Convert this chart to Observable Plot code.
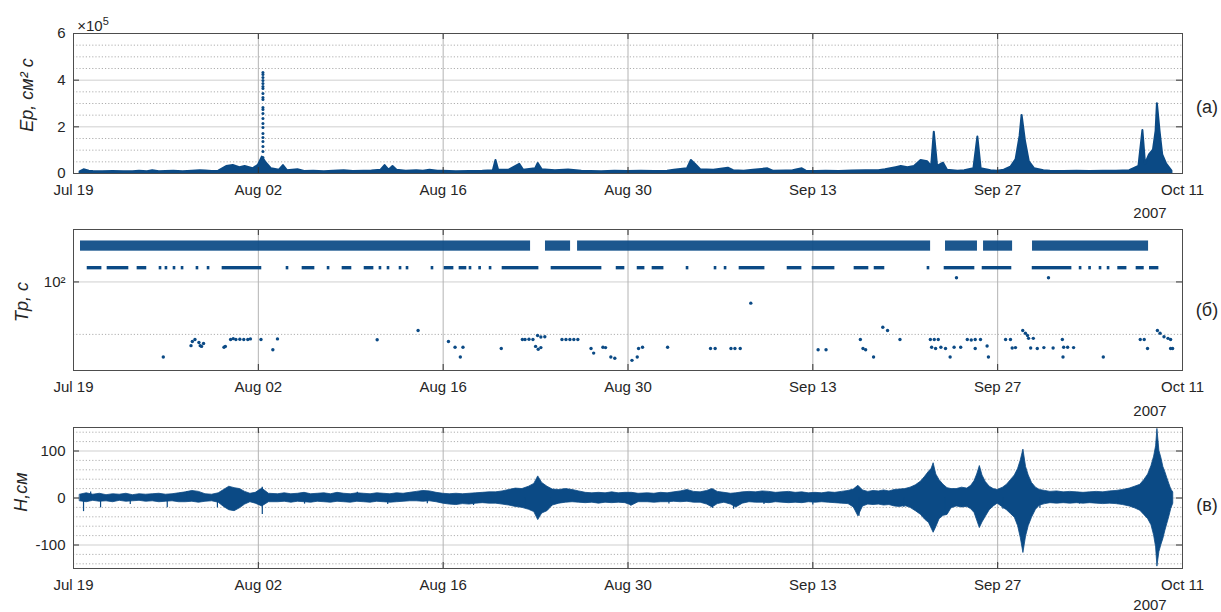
<!DOCTYPE html>
<html>
<head>
<meta charset="utf-8">
<script src="https://cdn.jsdelivr.net/npm/d3@7"></script>
<script src="https://cdn.jsdelivr.net/npm/@observablehq/plot@0.6"></script>
<style>
  html, body { margin: 0; padding: 0; background: #fff; }
  #wrap { position: relative; width: 1221px; height: 612px; overflow: hidden; font-family: "Liberation Sans", Arial, Helvetica, sans-serif; color: #262626; }
  #wrap svg { position: absolute; left: 0; }
  .lab { position: absolute; white-space: nowrap; }
  .ylab { font-style: italic; font-size: 18px; transform: translate(-50%, -50%) rotate(-90deg); }
  .tag { font-size: 18px; transform: translate(-50%, -50%); }
  .yr { font-size: 15px; transform: translate(-50%, -50%); }
  .yr sup { font-size: 11px; vertical-align: 6px; }
</style>
</head>
<body>
<div id="wrap"></div>
<script>
// ---------- shared x axis (days since 19 Jul 2007) ----------
const tickDays = [0, 14, 28, 42, 56, 70, 84];
const tickLabels = ["Jul 19", "Aug 02", "Aug 16", "Aug 30", "Sep 13", "Sep 27", "Oct 11"];
const yearLabel = "2007";
const panelTags = ["(а)", "(б)", "(в)"];
const yLabels = ["Ep, см² с", "Tp, с", "H,см"];

// ---------- panel (а): Ep, units of 1e5 ----------
const epTicks = [0, 2, 4, 6];
const epMinor = [0.5, 1, 1.5, 2.5, 3, 3.5, 4.5, 5, 5.5];
const epDay = [0.5,0.8,1.2,1.5,2.2,3,3.8,4.5,5,5.6,6,6.5,7,7.6,8.3,9,9.6,10,10.5,11,11.6,12.1,12.6,13.0,13.6,14.0,14.3,14.6,15.0,15.6,15.9,16.2,17.0,17.5,18.2,19,19.7,20.5,21.2,22,22.6,23.3,23.6,23.9,24.2,24.5,25.2,26,26.5,27,27.6,28,29,30,31,31.8,32.0,32.2,33,33.8,34.1,35.0,35.2,35.5,36.5,37.5,38.5,39.2,40,41,42,43,44,45,45.5,46.5,46.8,47.1,47.5,48.5,49.6,50,50.8,51.5,52.6,53,54,54.5,55.2,55.5,56.3,57,58,59,60,61,61.5,62.3,62.7,63.2,63.7,64.2,64.7,65.0,65.2,65.45,65.9,66.2,67,67.5,68.2,68.5,68.75,69.5,70,70.5,71.0,71.4,71.7,71.85,72.1,72.4,72.8,73.5,74,75,76,77,78,79,80,80.7,81.0,81.2,81.5,81.8,82.0,82.1,82.3,82.5,82.8,83.2];
const epTop = [0.07,0.16,0.1,0.09,0.08,0.09,0.07,0.08,0.1,0.08,0.12,0.08,0.09,0.1,0.08,0.1,0.12,0.11,0.09,0.1,0.3,0.34,0.25,0.3,0.2,0.35,0.7,0.45,0.2,0.14,0.34,0.12,0.16,0.09,0.1,0.08,0.1,0.12,0.09,0.1,0.11,0.14,0.34,0.14,0.3,0.14,0.1,0.12,0.1,0.14,0.1,0.1,0.08,0.09,0.1,0.12,0.56,0.14,0.14,0.39,0.14,0.2,0.43,0.16,0.12,0.15,0.1,0.09,0.08,0.1,0.09,0.1,0.09,0.1,0.14,0.2,0.56,0.4,0.16,0.14,0.23,0.12,0.1,0.14,0.2,0.1,0.11,0.12,0.2,0.1,0.09,0.1,0.09,0.11,0.12,0.12,0.16,0.25,0.3,0.25,0.3,0.56,0.5,0.3,1.77,0.3,0.44,0.14,0.1,0.12,0.2,1.56,0.2,0.12,0.1,0.14,0.27,0.6,1.6,2.49,1.4,0.5,0.2,0.12,0.1,0.09,0.1,0.09,0.1,0.1,0.12,0.3,1.84,0.4,0.8,1.0,1.8,2.99,1.8,0.8,0.4,0.1];
const epSpikeDay = 14.35;
const epSpikeVals = [4.33,4.24,4.11,3.99,3.86,3.73,3.64,3.43,3.26,3.17,2.83,2.74,2.57,2.36,2.14,1.97,1.71,1.54,1.37,1.16,0.94,0.69];

// ---------- panel (б): Tp, log scale ----------
const tpTicks = [100];
const tpMinor = [10];
const tpBandLo = 386, tpBandHi = 604;          // dense upper band
const tpBand = [[0.53,34.62],[35.75,37.65],[38.18,64.92],[66.05,68.47],[68.93,71.13],[72.64,81.43]];
const tp2Lo = 170, tp2Hi = 197;                // secondary band
const tp2 = [[1.14,2.05],[2.65,4.09],[4.92,5.45],[6.59,6.59],[7.04,7.04],[7.65,7.65],[8.26,8.26],[9.39,9.39],[10.23,10.23],[11.36,14.16],[16.21,16.21],[17.42,18.18],[19.32,19.32],[20.45,20.98],[22.12,22.65],[23.25,23.25],[23.86,23.86],[24.77,24.77],[25.30,25.30],[27.19,27.19],[28.18,28.71],[29.31,29.69],[30.07,30.07],[30.8,30.8],[31.59,31.59],[32.57,35.15],[36.28,39.92],[41.21,41.66],[42.80,43.18],[43.93,44.62],[46.51,46.51],[48.63,48.63],[49.39,49.39],[50.52,52.27],[54.16,55.07],[56.05,57.57],[59.23,60.14],[60.75,61.35],[64.76,64.76],[66.05,68.17],[68.93,70.97],[72.72,75.52],[76.28,76.28],[77.0,77.0],[77.79,77.79],[78.40,78.40],[79.2,79.69],[80.59,81.0],[81.6,82.11]];
const tpDotDay = [6.8,8.9,9.0,9.2,9.5,9.6,9.85,9.7,11.4,11.5,11.9,12.1,12.3,12.6,12.9,13.2,13.4,14.2,15.1,15.45,23.0,26.1,28.4,28.9,29.5,29.3,32.4,34.0,34.2,34.5,34.8,35.15,35.4,35.7,35.0,35.2,35.4,37.0,37.3,37.6,37.9,38.2,39.2,39.4,40.1,40.3,40.7,41.0,42.3,42.7,42.8,43.1,45.0,48.25,48.6,49.8,50.1,50.5,51.3,56.4,57.0,59.6,59.8,60.0,60.6,61.3,61.66,62.6,64.9,65.2,65.5,65.0,65.3,65.7,66.05,66.4,66.7,67.2,67.7,68.0,68.3,68.7,68.3,69.2,69.3,70.6,70.97,71.1,71.35,71.9,72.1,72.26,72.34,72.7,72.5,73.0,73.5,74.2,74.9,75.0,75.3,75.75,74.95,78.0,80.8,81.1,81.35,82.1,82.3,82.6,82.9,83.1,83.1,83.25,66.88,73.85];
const tpDotVal = [3.7,6.1,7.3,8.0,7.0,6.1,6.7,5.9,5.7,5.9,8.0,8.3,8.0,8.1,8.0,8.0,8.2,8.0,5.1,8.2,7.9,11.9,7.3,5.7,5.7,3.7,5.4,8.0,8.0,8.1,8.0,9.5,8.9,9.0,5.9,5.2,5.6,8.0,8.0,8.0,8.0,8.0,5.4,4.4,5.7,5.6,3.7,3.5,3.2,3.7,5.4,5.7,5.7,5.4,5.4,5.4,5.4,5.4,39.4,5.1,5.1,8.0,5.4,5.1,3.7,13.7,11.9,8.0,8.0,8.0,8.0,5.7,5.4,5.7,5.4,3.7,5.7,5.7,8.0,7.8,8.0,8.0,5.4,6.0,3.7,8.0,8.0,5.5,5.6,11.9,10.5,9.5,8.4,8.4,5.5,5.4,5.6,5.5,8.0,5.7,5.7,5.6,3.7,3.7,8.0,8.0,5.4,11.9,10.5,9.0,8.4,8.0,5.4,5.4,120,120];

// ---------- panel (в): H, cm ----------
const hTicks = [-100, 0, 100];
const hMinor = [-140,-120,-80,-60,-40,-20,20,40,60,80,120,140];
const hDay = [0.5,1,1.5,2,2.5,3,3.5,4,4.5,5,5.5,6,6.5,7,7.5,8,8.5,9,9.5,10,10.5,
  11,11.4,11.8,12.2,12.6,13,13.4,13.8,14.3,14.8,
  15.5,16,16.5,17,17.5,18,18.5,19,19.5,20,20.5,21,21.5,22,22.5,23,23.5,24,24.5,25,25.5,
  26,26.5,27,27.5,28,28.5,29,29.5,30,30.5,31,31.5,
  32,32.5,33,33.5,34,34.5,34.9,35.2,35.5,35.9,36.3,36.8,
  37.3,37.8,38.3,38.8,39.3,39.8,40.3,40.8,41.3,41.8,42.3,42.8,
  43.5,44,44.5,45,45.5,46,46.5,47,47.5,48,48.4,48.8,49.3,49.8,50.2,50.7,
  51.2,51.7,52.2,52.7,53.2,53.7,54.2,54.7,55.2,55.7,56.2,56.7,57.2,57.7,58.2,
  58.7,59.1,59.45,59.8,60.2,
  60.6,61,61.4,61.8,62.2,62.6,63,63.4,63.8,
  64.2,64.5,64.8,65.0,65.15,65.35,65.6,65.9,66.2,66.5,
  66.9,67.3,67.7,68.0,
  68.25,68.45,68.65,68.85,69.1,69.4,69.7,70.0,70.4,
  70.7,71.0,71.3,71.55,71.75,71.95,72.15,72.35,72.6,72.9,
  73.2,73.6,74,74.5,75,75.5,76,76.5,77,77.5,78,78.5,79,79.5,
  80.0,80.4,80.8,81.1,81.4,81.65,81.85,82.0,82.1,82.25,82.4,82.55,82.7,82.85,83.0,83.15,83.3];
const hTop = [7,10,7,9,6,8,7,9,6,8,7,8,9,7,8,10,12,15,13,8,7,
  10,17,24,21,19,13,9,11,20,9,
  8,10,8,9,11,8,9,10,8,11,9,8,10,9,8,10,9,8,10,9,11,
  13,15,14,11,9,8,9,8,9,10,11,12,
  12,14,17,20,19,24,30,46,32,24,18,17,
  19,17,14,11,10,11,10,12,10,11,11,9,
  10,9,11,10,12,14,17,13,12,15,19,13,11,9,10,12,
  13,12,14,13,11,12,13,11,12,10,11,10,12,11,13,
  15,18,26,16,13,
  15,14,16,14,17,18,19,22,27,
  35,45,56,62,74,50,38,28,21,19,
  19,22,20,26,
  36,50,68,48,34,24,19,17,22,
  28,38,48,62,80,103,66,48,32,22,
  17,15,13,14,12,13,12,11,12,13,12,14,15,17,
  20,24,28,38,50,68,88,110,147,100,85,66,55,42,30,18,12];
const hBot = [-7,-9,-6,-8,-7,-9,-6,-8,-7,-6,-8,-7,-9,-8,-7,-9,-9,-8,-10,-8,-7,
  -10,-19,-26,-28,-22,-14,-9,-12,-18,-9,
  -9,-8,-10,-8,-9,-10,-8,-9,-10,-8,-9,-10,-8,-9,-10,-8,-9,-10,-9,-8,-7,
  -7,-8,-7,-9,-12,-14,-15,-13,-14,-12,-11,-12,
  -12,-14,-16,-19,-21,-25,-30,-47,-33,-28,-16,-12,
  -10,-9,-10,-11,-10,-12,-10,-11,-10,-11,-16,-9,
  -9,-10,-9,-9,-8,-9,-8,-10,-10,-14,-20,-13,-10,-14,-20,-12,
  -9,-10,-10,-11,-9,-10,-11,-10,-11,-9,-10,-9,-10,-11,-12,
  -13,-20,-39,-18,-14,
  -15,-14,-16,-15,-18,-19,-17,-21,-28,
  -36,-46,-53,-65,-74,-62,-45,-38,-36,-22,
  -18,-20,-19,-24,
  -32,-48,-64,-52,-40,-26,-18,-12,-20,
  -26,-34,-42,-60,-85,-117,-82,-60,-42,-25,
  -16,-13,-11,-12,-11,-12,-11,-12,-11,-12,-13,-12,-13,-15,
  -18,-22,-27,-36,-45,-58,-80,-105,-146,-115,-100,-87,-70,-55,-40,-23,-12];
const hSpikeDay = [0.76,1.3,2.05,4.3,7.1,8.6,10.9,14.3,14.3,17.5,21.5,23.8,26.8,30.3,34.2,36.2,42.2,45.1,48.4,50.0,52.3,56.0,59.5,62.9,66.0,70.4,73.2,76.2,79.1];
const hSpikeVal = [-29,13,-21,-14,-21,14,-21,-35,23,-13,12,-14,-12,-16,-20,-18,-17,-13,-22,-24,-14,-15,-39,-20,-36,-24,-22,-13,-14];

// ---------- drawing ----------
const BLUE = "#0b4a85";
const W = 1221, ML = 73, MR = 39;
const PW = W - ML - MR;
const FONT = "'Liberation Sans', Arial, Helvetica, sans-serif";
const wrap = document.getElementById("wrap");

function panel({top, height, mt, mb, y, yTicks, yFmt, yMinor, yGrid, marks}) {
  const PH = height - mt - mb;
  const svg = Plot.plot({
    width: W, height, marginLeft: ML, marginRight: MR, marginTop: mt, marginBottom: mb,
    style: {fontFamily: FONT, fontSize: "15px", color: "#262626", background: "transparent", overflow: "visible"},
    x: {type: "linear", domain: [0, 84], axis: null},
    y: {...y, axis: null},
    marks: [
      Plot.ruleY(yMinor, {stroke: "#9a9a9a", strokeDasharray: "1.2,2", strokeWidth: 0.8}),
      Plot.ruleY(yGrid, {stroke: "#cfcfcf", strokeWidth: 1}),
      Plot.ruleX(tickDays.slice(1, -1), {stroke: "#b4b4b4", strokeWidth: 1}),
      ...marks,
      Plot.ruleX(tickDays, {insetBottom: PH - 6, stroke: "#333"}),
      Plot.ruleX(tickDays, {insetTop: PH - 6, stroke: "#333"}),
      Plot.ruleY(yTicks, {insetRight: PW - 6, stroke: "#333"}),
      Plot.ruleY(yTicks, {insetLeft: PW - 6, stroke: "#333"}),
      Plot.frame({stroke: "#4d4d4d", strokeWidth: 1}),
      Plot.axisX(tickDays, {label: null, tickSize: 0, tickPadding: 11, fontSize: 15, tickFormat: d => tickLabels[tickDays.indexOf(d)]}),
      Plot.axisY(yTicks, {label: null, tickSize: 0, tickPadding: 8, fontSize: 15, tickFormat: yFmt})
    ]
  });
  svg.style.top = top + "px";
  wrap.appendChild(svg);
}

// (а)
const epData = epDay.map((d, i) => ({d, v: epTop[i]}));
const epSpike = epSpikeVals.map(v => ({d: epSpikeDay, v}));
panel({
  top: 0, height: 215, mt: 33, mb: 42,
  y: {domain: [0, 6]}, yTicks: epTicks, yFmt: d => String(d), yMinor: epMinor, yGrid: [2, 4],
  marks: [
    Plot.areaY(epData, {x: "d", y1: 0, y2: "v", fill: BLUE, stroke: BLUE, strokeWidth: 2}),
    Plot.dot(epSpike, {x: "d", y: "v", r: 1.5, fill: BLUE})
  ]
});

// (б)
const tpDots = tpDotDay.map((d, i) => ({d, v: tpDotVal[i]}));
panel({
  top: 215, height: 195, mt: 14, mb: 40,
  y: {type: "log", domain: [2.05, 1000]}, yTicks: tpTicks, yFmt: () => "10²", yMinor: tpMinor, yGrid: tpTicks,
  marks: [
    Plot.rect(tpBand, {x1: s => s[0], x2: s => s[1], y1: tpBandLo, y2: tpBandHi, fill: BLUE, fillOpacity: 0.93}),
    Plot.rect(tp2, {x1: s => s[0] - 0.1, x2: s => s[1] + 0.1, y1: tp2Lo, y2: tp2Hi, fill: BLUE}),
    Plot.dot(tpDots, {x: "d", y: "v", r: 1.7, fill: BLUE})
  ]
});

// (в)
const hData = hDay.map((d, i) => ({d, hi: hTop[i], lo: hBot[i]}));
const hSp = hSpikeDay.map((d, i) => ({d, v: hSpikeVal[i]}));
panel({
  top: 410, height: 202, mt: 17, mb: 44,
  y: {domain: [-150, 150]}, yTicks: hTicks, yFmt: d => String(d), yMinor: hMinor, yGrid: hTicks,
  marks: [
    Plot.areaY(hData, {x: "d", y1: "lo", y2: "hi", fill: BLUE, stroke: BLUE, strokeWidth: 0.8}),
    Plot.ruleX(hSp, {x: "d", y1: 0, y2: "v", stroke: BLUE, strokeWidth: 1.2})
  ]
});

// ---------- html labels ----------
function lab(text, cls, x, y) {
  const el = document.createElement("div");
  el.className = "lab " + cls;
  el.textContent = text;
  el.style.left = x + "px";
  el.style.top = y + "px";
  wrap.appendChild(el);
  return el;
}
lab(yLabels[0], "ylab", 27, 95);
lab(yLabels[1], "ylab", 22, 302);
lab(yLabels[2], "ylab", 21, 492);
lab(panelTags[0], "tag", 1207, 107);
lab(panelTags[1], "tag", 1207, 310);
lab(panelTags[2], "tag", 1207, 505);
lab(yearLabel, "yr", 1150, 212);
lab(yearLabel, "yr", 1150, 410);
lab(yearLabel, "yr", 1150, 604);
const ex = lab("", "yr", 93, 24);
ex.innerHTML = "×10<sup>5</sup>";
</script>
</body>
</html>
